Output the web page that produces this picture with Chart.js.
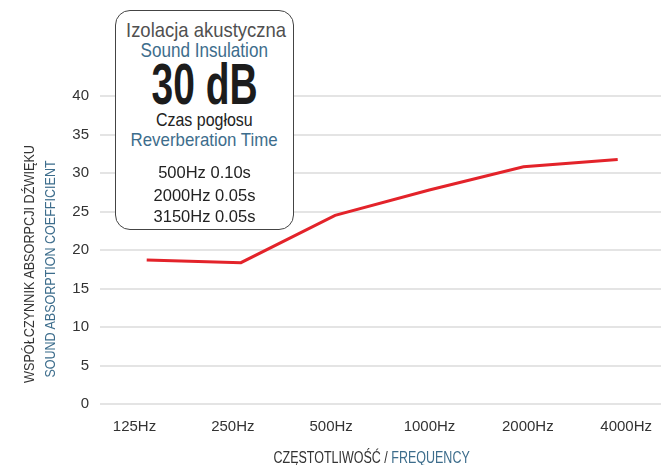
<!DOCTYPE html>
<html>
<head>
<meta charset="utf-8">
<script src="https://cdn.jsdelivr.net/npm/chart.js"></script>
<style>
html,body{margin:0;padding:0;background:#fff;}
#wrap{position:relative;width:661px;height:465px;overflow:hidden;}
#chart{position:absolute;left:0;top:0;}
.t{position:absolute;white-space:nowrap;line-height:1;font-family:"Liberation Sans",Arial,sans-serif;}
.c{left:115px;width:179px;text-align:center;}
.fit{display:inline-block;transform-origin:50% 50%;}
.box{position:absolute;left:115px;top:10px;width:179px;height:220px;box-sizing:border-box;border:1.5px solid #444;border-radius:15px;background:#fff;}
.blue{color:#3d6d8c;}
.dark{color:#333;}
.rot{transform:translate(-50%,-50%) rotate(-90deg);}
</style>
</head>
<body>
<div id="wrap">
  <canvas id="chart" width="661" height="465"></canvas>
  <div class="box"></div>
  <div class="t c" style="top:18.9px;font-size:21px;color:#505050;"><span class="fit" data-w="160">Izolacja akustyczna</span></div>
  <div class="t c blue" style="top:38.9px;font-size:21px;"><span class="fit" data-w="127">Sound Insulation</span></div>
  <div class="t c" style="top:56px;font-size:57px;font-weight:bold;color:#1c1c1c;"><span class="fit" data-w="106">30 dB</span></div>
  <div class="t c" style="top:111px;font-size:18.6px;color:#222;"><span class="fit" data-w="97">Czas pogłosu</span></div>
  <div class="t c blue" style="top:131px;font-size:18.6px;"><span class="fit" data-w="147">Reverberation Time</span></div>
  <div class="t c" style="top:164.3px;font-size:16.5px;color:#222;"><span>500Hz 0.10s</span></div>
  <div class="t c" style="top:187px;font-size:16.5px;color:#222;"><span>2000Hz 0.05s</span></div>
  <div class="t c" style="top:207.7px;font-size:16.5px;color:#222;"><span>3150Hz 0.05s</span></div>
  <div class="t rot dark" style="left:29px;top:264px;font-size:15.4px;"><span class="fit" data-w="238">WSPÓŁCZYNNIK ABSORPCJI DŹWIĘKU</span></div>
  <div class="t rot blue" style="left:50px;top:268.5px;font-size:15.3px;"><span class="fit" data-w="217">SOUND ABSORPTION COEFFICIENT</span></div>
  <div class="t" style="left:171.3px;width:400px;text-align:center;top:449.8px;font-size:16px;"><span class="fit" data-w="196"><span class="dark">CZĘSTOTLIWOŚĆ / </span><span class="blue">FREQUENCY</span></span></div>
</div>
<script>
const categories = ['125Hz', '250Hz', '500Hz', '1000Hz', '2000Hz', '4000Hz'];
const absorption = [18.7, 18.35, 24.5, 27.8, 30.8, 31.75];
const yTicks = [0, 5, 10, 15, 20, 25, 30, 35, 40];

// condense the titling text to the widths seen in the reference
document.querySelectorAll('.fit').forEach(el => {
  const target = parseFloat(el.dataset.w);
  const w = el.offsetWidth;
  if (w > 0) el.style.transform = 'scaleX(' + (target / w).toFixed(4) + ')';
});

const tickFont = { family: '"Liberation Sans", Arial, sans-serif', size: 15 };

new Chart(document.getElementById('chart'), {
  type: 'line',
  data: {
    datasets: [{
      data: absorption.map((v, i) => ({ x: i, y: v })),
      xAxisID: 'xd',
      yAxisID: 'y',
      borderColor: '#e3232a',
      borderWidth: 3,
      pointRadius: 0,
      tension: 0,
      fill: false
    }]
  },
  options: {
    responsive: false,
    animation: false,
    events: [],
    layout: { padding: { top: 96, left: 0, right: 0, bottom: 0 } },
    plugins: { legend: { display: false }, tooltip: { enabled: false } },
    scales: {
      x: {
        type: 'linear',
        position: 'bottom',
        min: -0.3508,
        max: 5.354,
        afterBuildTicks: (axis) => { axis.ticks = categories.map((_, i) => ({ value: i })); },
        afterFit: (axis) => { axis.height = 61; axis.paddingLeft = 0; axis.paddingRight = 0; },
        grid: { display: false, drawTicks: false },
        border: { display: false },
        ticks: {
          autoSkip: false,
          maxRotation: 0,
          padding: 14,
          color: '#333',
          font: tickFont,
          callback: (v) => categories[v] ?? ''
        }
      },
      xd: {
        type: 'linear',
        display: false,
        min: -0.4958,
        max: 5.4597
      },
      y: {
        type: 'linear',
        position: 'left',
        min: 0,
        max: 40,
        afterBuildTicks: (axis) => { axis.ticks = yTicks.map(v => ({ value: v })); },
        afterFit: (axis) => { axis.width = 100; axis.paddingTop = 0; axis.paddingBottom = 0; },
        grid: { color: '#e4e4e4', lineWidth: 2, drawTicks: false },
        border: { display: false },
        ticks: { padding: 11, color: '#333', font: tickFont }
      }
    }
  }
});
</script>
</body>
</html>
